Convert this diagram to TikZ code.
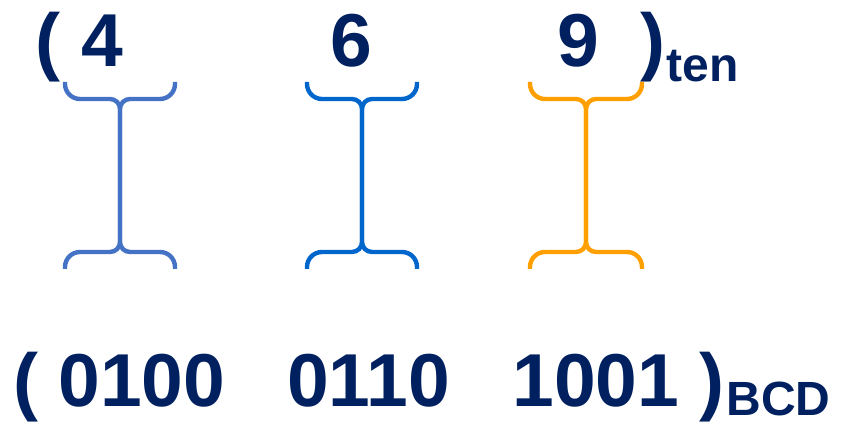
\documentclass[tikz,border=0pt]{standalone}
\usepackage{fontspec}
\setmainfont{Liberation Sans}
\definecolor{navy}{HTML}{002060}
\definecolor{bA}{HTML}{4472C4}
\definecolor{bB}{HTML}{0066CC}
\definecolor{bC}{HTML}{FFA000}
\tikzset{
  big/.style={inner sep=0pt, anchor=base, text=navy, font=\fontsize{75}{80}\selectfont\bfseries},
  small/.style={inner sep=0pt, anchor=base, text=navy, font=\fontsize{48}{52}\selectfont\bfseries},
  brace/.style={line width=4.4pt, line cap=butt}
}
\newcommand{\ibrace}[4]{% #1 left, #2 centre, #3 right, #4 colour
  \draw[brace, #4] (#1,340) -- (#1,338) arc[start angle=180, end angle=270, radius=15]
    -- (#2-10,323) arc[start angle=90, end angle=0, radius=10]
    -- (#2,180) arc[start angle=0, end angle=-90, radius=10]
    -- (#1+15,170) arc[start angle=90, end angle=180, radius=15] -- (#1,153);
  \draw[brace, #4] (#3,340) -- (#3,338) arc[start angle=0, end angle=-90, radius=15]
    -- (#2+10,323) arc[start angle=90, end angle=180, radius=10]
    -- (#2,180) arc[start angle=180, end angle=270, radius=10]
    -- (#3-15,170) arc[start angle=90, end angle=0, radius=15] -- (#3,153);
}
\begin{document}
\begin{tikzpicture}[x=1pt,y=1pt]
\useasboundingbox (0,0) rectangle (841,422);
% top row
\node[big] (lp) at (48,355) {(};
\node[big] (d4) at (102,355) {4};
\node[big] (d6) at (351,355) {6};
\node[big] (d9) at (578.5,355) {9};
\node[big] (rp) at (653,355) {)};
\node[small] (ten) at (702.5,340) {ten};
% braces
\ibrace{65}{120}{175}{bA}
\ibrace{307}{362}{417}{bB}
\ibrace{530}{586}{642}{bC}
% bottom row
\node[big] (lp2) at (26,15) {(};
\node[big] (b4) at (142,15) {0100};
\node[big] (b6) at (368.5,15) {0110};
\node[big] (b9) at (596,15) {1001};
\node[big] (rp2) at (712,15) {)};
\node[small] (bcd) at (778.5,6) {BCD};
\end{tikzpicture}
\end{document}
